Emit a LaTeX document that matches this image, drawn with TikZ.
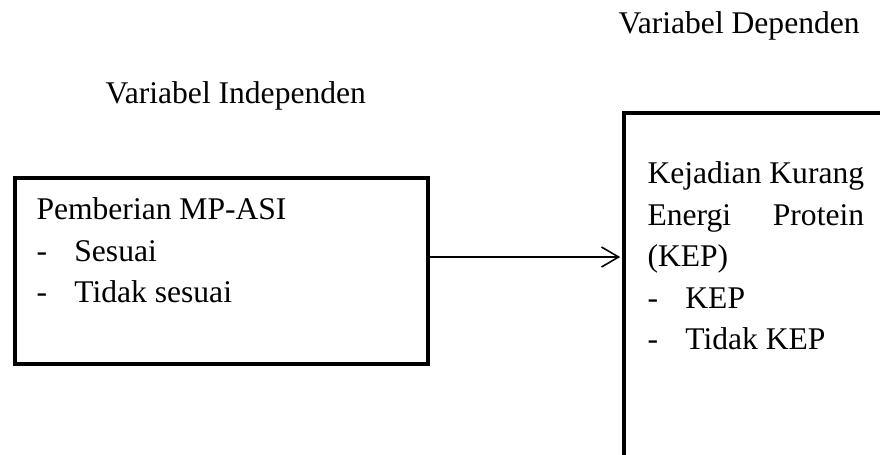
\documentclass[tikz,border=0pt]{standalone}
\usepackage{fontspec}
\setmainfont{Liberation Serif}
\usetikzlibrary{arrows.meta, positioning}
\newcommand{\dashitem}[1]{\makebox[14.4pt][l]{-}#1}

\begin{document}
\begin{tikzpicture}[x=0.38pt, y=-0.38pt,
    every node/.style={font=\fontsize{12}{15.8}\selectfont, inner sep=0pt},
    varbox/.style={draw, line width=1.5pt, anchor=north west},
    txt/.style={align=left, anchor=north west}]
    \useasboundingbox (0,0) rectangle (880,454);
    % judul variabel
    \node[anchor=base west] (lblind) at (105,103) {Variabel Independen};
    \node[anchor=base west] (lbldep) at (618,33) {Variabel Dependen};
    % kotak
    \node[varbox, minimum width=156.9pt, minimum height=70.7pt] (indep) at (13,176) {};
    \node[varbox, minimum width=110pt, minimum height=145pt] (dep) at (622,111) {};
    \node[txt] (indeptxt) at (36,197) {Pemberian MP-ASI\\ \dashitem{Sesuai}\\ \dashitem{Tidak sesuai}};
    \node[txt] (deptxt) at (647,161) {Kejadian Kurang\\ \makebox[82.3pt]{Energi\hfill Protein}\\ (KEP)\\ \dashitem{KEP}\\ \dashitem{Tidak KEP}};
    \coordinate (arrowy) at (0,257);
    \draw[-{Straight Barb[length=6.5pt, width=7.6pt]}, line width=0.6pt, shorten >=0.7pt]
      (indep.east |- arrowy) -- (dep.west |- arrowy);
  \end{tikzpicture}
\end{document}
